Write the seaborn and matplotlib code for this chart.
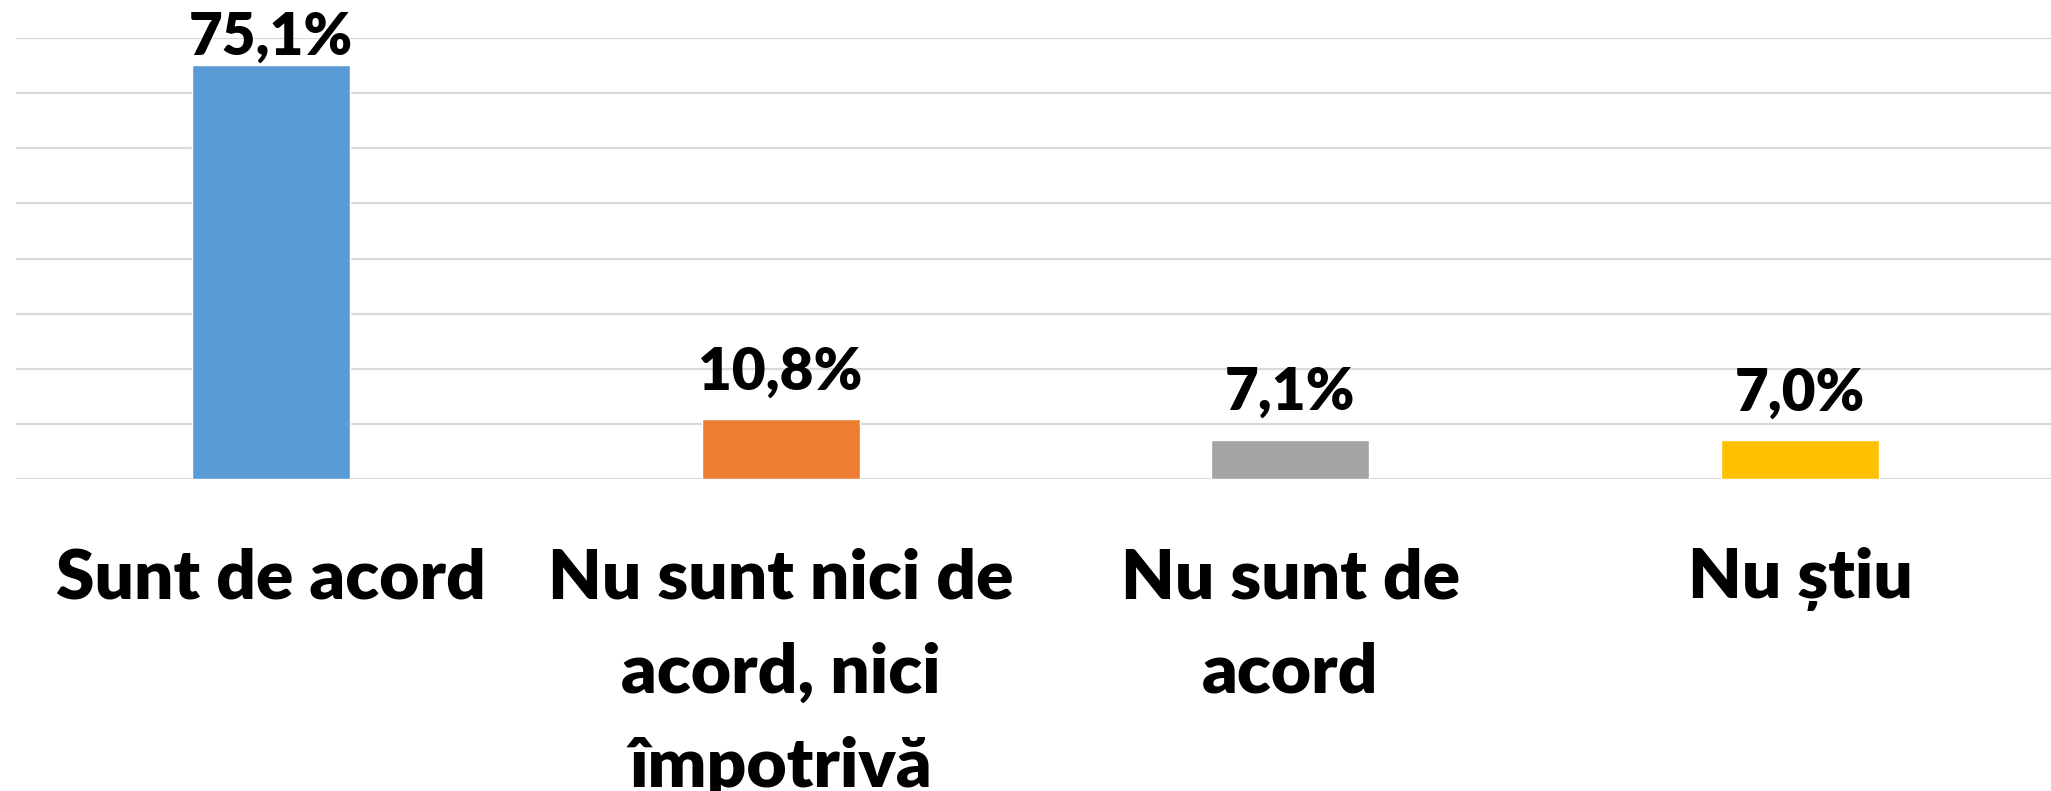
import matplotlib
matplotlib.use("Agg")
import matplotlib.pyplot as plt
import seaborn as sns
import pandas as pd

categories = ["Sunt de acord", "Nu sunt nici de acord, nici împotrivă", "Nu sunt de acord", "Nu știu"]
tick_labels = ["Sunt de acord", "Nu sunt nici de\nacord, nici\nîmpotrivă", "Nu sunt de\nacord", "Nu știu"]
values = [75.1, 10.8, 7.1, 7.0]
value_labels = ["75,1%", "10,8%", "7,1%", "7,0%"]
colors = ["#5B9BD5", "#ED7D31", "#A5A5A5", "#FFC000"]

sns.set_theme(style="white")
plt.rcParams['font.family'] = ['Lato', 'DejaVu Sans']

W, H = 2051, 791
fig = plt.figure(figsize=(W / 100, H / 100), dpi=100)
ax = fig.add_axes([16 / W, (H - 479) / H, 2039 / W, 441 / H])

df = pd.DataFrame({"cat": categories, "val": values})
sns.barplot(data=df, x="cat", y="val", hue="cat", palette=colors, legend=False,
            width=0.31, saturation=1, ax=ax, zorder=3)

ax.set_ylim(0, 80)
ax.set_xlim(-0.5, 3.5)
ax.set_yticks(range(0, 81, 10))
ax.yaxis.grid(True, color="#D9D9D9", linewidth=1.6, zorder=0)
ax.set_axisbelow(True)
for s in ax.spines.values():
    s.set_visible(False)
ax.tick_params(axis="y", left=False, labelleft=False)
ax.tick_params(axis="x", bottom=False, pad=43)
ax.set_xticks(range(len(categories)))
ax.set_xticklabels(tick_labels, fontsize=50, fontweight="heavy", color="black",
                   linespacing=1.62, va="top")
ax.set_xlabel("")
ax.set_ylabel("")

for i, (v, lab) in enumerate(zip(values, value_labels)):
    y = min(v + 5.4, 76.9)
    ax.text(i, y, lab, ha="center", va="baseline", fontsize=42, fontweight="heavy",
            color="black", zorder=4)

fig.savefig("out.png", dpi=100)
